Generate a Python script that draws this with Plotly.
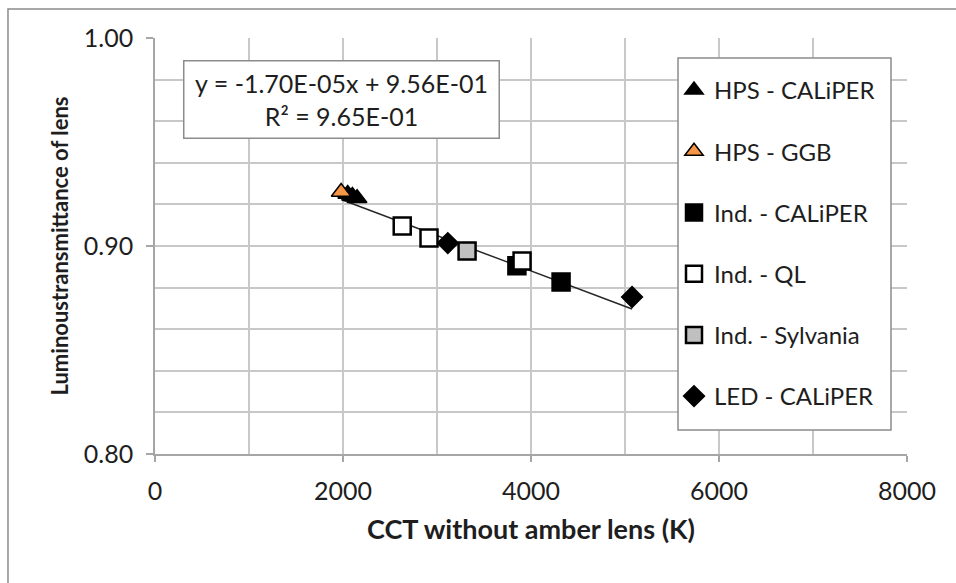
import plotly.graph_objects as go

# ---- data ----
hps_caliper_x = [2050, 2100, 2150]
hps_caliper_y = [0.925, 0.924, 0.923]
hps_ggb_x = [1980]
hps_ggb_y = [0.926]
ind_caliper_x = [3850, 4320]
ind_caliper_y = [0.8905, 0.8827]
ind_ql_x = [2630, 2915, 3905]
ind_ql_y = [0.9096, 0.9038, 0.8928]
ind_syl_x = [3320]
ind_syl_y = [0.8976]
led_x = [3115, 5075]
led_y = [0.9014, 0.8755]

slope = -1.70e-05
intercept = 0.956
trend_x = [1980, 5075]
trend_y = [slope * v + intercept for v in trend_x]

x_ticks = [0, 2000, 4000, 6000, 8000]
y_ticks = [0.80, 0.90, 1.00]
eq_text = "y = -1.70E-05x + 9.56E-01<br>R² = 9.65E-01"

FONT = "Lato"
TXT = "#1e1e1e"

fig = go.Figure()

fig.add_trace(go.Scatter(x=trend_x, y=trend_y, mode="lines",
                         line=dict(color="#262626", width=1.5),
                         showlegend=False, hoverinfo="skip"))

series = [
    ("HPS - CALiPER", hps_caliper_x, hps_caliper_y, "triangle-up", 17, "black", "black"),
    ("HPS - GGB", hps_ggb_x, hps_ggb_y, "triangle-up", 17, "#f79646", "black"),
    ("Ind. - CALiPER", ind_caliper_x, ind_caliper_y, "square", 17, "black", "black"),
    ("Ind. - QL", ind_ql_x, ind_ql_y, "square", 17, "white", "black"),
    ("Ind. - Sylvania", ind_syl_x, ind_syl_y, "square", 17, "#c0c0c0", "black"),
    ("LED - CALiPER", led_x, led_y, "diamond", 16, "black", "black"),
]
for i, (name, xs, ys, sym, size, fill, edge) in enumerate(series):
    fig.add_trace(go.Scatter(
        x=xs, y=ys, mode="markers", name=name, legendgroup=f"g{i}",
        marker=dict(symbol=sym, size=size, color=fill,
                    line=dict(color=edge, width=2.5 if sym == "square" else 1.5)),
    ))

fig.add_annotation(
    x=0.248, y=0.852, xref="paper", yref="paper", text=eq_text,
    xanchor="center", yanchor="middle",
    showarrow=False, align="center", font=dict(family=FONT, size=25, color=TXT),
    bordercolor="#8c8c8c", borderwidth=1.5, borderpad=4, bgcolor="white",
    width=306, height=68,
)

# legend frame (drawn as a shape so its size can match)
fig.add_shape(type="rect", xref="paper", yref="paper",
              x0=(678 - 155) / 752, x1=(891 - 155) / 752,
              y0=(454 - 430) / 416, y1=(454 - 58) / 416,
              line=dict(color="#8c8c8c", width=1.5), fillcolor="white", layer="above")

# outer chart border (left/top visible)
fig.add_shape(type="rect", xref="paper", yref="paper",
              x0=-0.1955, y0=-0.5, x1=1.3, y1=1.0697,
              line=dict(color="#8c8c8c", width=1.5), layer="below")

fig.update_layout(
    width=956, height=583,
    margin=dict(l=155, r=49, t=38, b=129),
    paper_bgcolor="white", plot_bgcolor="white",
    font=dict(family=FONT, color=TXT),
    legend=dict(
        x=(674 - 155) / 752, y=(454 - 68) / 416, xanchor="left", yanchor="top",
        borderwidth=0, bgcolor="rgba(0,0,0,0)",
        font=dict(family=FONT, size=24, color=TXT),
        tracegroupgap=27, itemwidth=30,
    ),
    showlegend=True,
)
fig.update_xaxes(
    range=[0, 8000], tickvals=x_ticks, ticktext=[str(v) for v in x_ticks],
    showgrid=True, gridcolor="#c8c8c8", gridwidth=1.5,
    showline=True, linecolor="#a6a6a6", linewidth=1.5,
    ticks="outside", ticklen=6, tickcolor="#a6a6a6", tickwidth=1.5,
    ticklabelstandoff=8,
    tickfont=dict(family=FONT, size=25, color=TXT),
    title=dict(text="<b>CCT without amber lens (K)</b>",
               font=dict(family=FONT, size=27, color=TXT), standoff=16),
    zeroline=False,
)
fig.update_yaxes(
    range=[0.80, 1.00], tickvals=y_ticks, ticktext=["0.80", "0.90", "1.00"],
    showgrid=True, gridcolor="#c8c8c8", gridwidth=1.5,
    showline=True, linecolor="#a6a6a6", linewidth=1.5,
    ticks="outside", ticklen=7, tickcolor="#a6a6a6", tickwidth=1.5,
    ticklabelstandoff=8,
    tickfont=dict(family=FONT, size=25, color=TXT),
    title=dict(text="<b>Luminoustransmittance of lens</b>",
               font=dict(family=FONT, size=22, color=TXT), standoff=9),
    zeroline=False,
)
# minor grid lines
fig.update_xaxes(minor=dict(dtick=1000, showgrid=True, gridcolor="#c8c8c8", gridwidth=1.5, ticks=""))
fig.update_yaxes(minor=dict(dtick=0.02, showgrid=True, gridcolor="#c8c8c8", gridwidth=1.5, ticks=""))

fig.write_html("out.html")
